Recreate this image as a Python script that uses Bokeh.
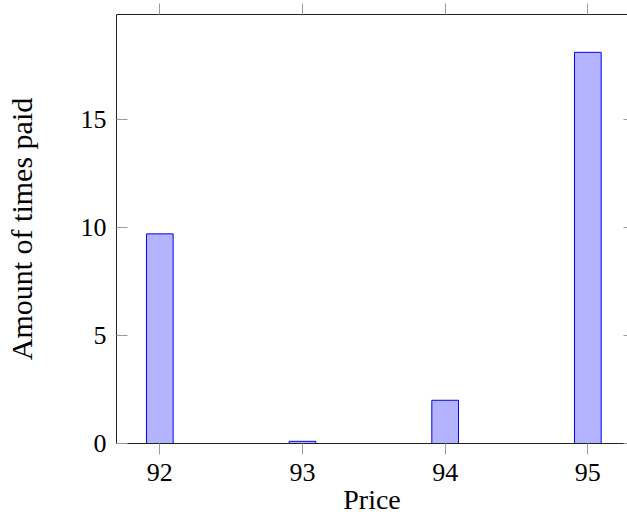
from bokeh.plotting import figure
from bokeh.models import ColumnDataSource, LinearAxis, FixedTicker, Range1d
from bokeh.embed import file_html
from bokeh.resources import INLINE

prices = [92, 93, 94, 95]
counts = [9.7, 0.1, 2.0, 18.1]
x_ticks = [92, 93, 94, 95]
y_ticks = [0, 5, 10, 15]

FONT = "'Liberation Serif', 'Times New Roman', serif"
TICK_COLOR = "#9a9a9a"
AXIS_COLOR = "#222222"

p = figure(width=627, height=517, output_backend="svg", toolbar_location=None,
           x_range=Range1d(91.6965, 95.278), y_range=Range1d(0, 19.85),
           min_border_left=116, min_border_top=14, min_border_right=0, min_border_bottom=73)
p.outline_line_color = None
p.xgrid.visible = False
p.ygrid.visible = False
p.background_fill_color = "white"
p.border_fill_color = "white"

src = ColumnDataSource(dict(x=prices, top=counts))
p.vbar(x="x", top="top", bottom=0, width=0.187, source=src,
       fill_color="#b3b3ff", line_color="#0000ff", line_width=1)

# bottom axis
xa = p.xaxis[0]
xa.ticker = FixedTicker(ticks=x_ticks)
xa.minor_tick_line_color = None
xa.major_tick_in = 0
xa.major_tick_out = 11
xa.major_tick_line_color = TICK_COLOR
xa.axis_line_color = AXIS_COLOR
xa.major_label_text_font = FONT
xa.major_label_text_font_size = "26px"
xa.major_label_text_color = "black"
xa.major_label_standoff = 9
xa.axis_label = "Price"
xa.axis_label_text_font = FONT
xa.axis_label_text_font_style = "normal"
xa.axis_label_text_font_size = "28px"
xa.axis_label_text_color = "black"
xa.axis_label_standoff = 0

# left axis
ya = p.yaxis[0]
ya.ticker = FixedTicker(ticks=y_ticks)
ya.minor_tick_line_color = None
ya.major_tick_in = 11
ya.major_tick_out = 0
ya.major_tick_line_color = TICK_COLOR
ya.axis_line_color = AXIS_COLOR
ya.major_label_text_font = FONT
ya.major_label_text_font_size = "26px"
ya.major_label_text_color = "black"
ya.major_label_standoff = 10
ya.axis_label = "Amount of times paid"
ya.axis_label_text_font = FONT
ya.axis_label_text_font_style = "normal"
ya.axis_label_text_font_size = "30px"
ya.axis_label_text_color = "black"
ya.axis_label_standoff = 40

# top axis (mirrored ticks, no labels)
ta = LinearAxis(ticker=FixedTicker(ticks=x_ticks))
ta.minor_tick_line_color = None
ta.major_tick_in = 0
ta.major_tick_out = 11
ta.major_tick_line_color = TICK_COLOR
ta.axis_line_color = AXIS_COLOR
ta.major_label_text_color = None
ta.major_label_text_font_size = "1px"
ta.major_label_standoff = 0
p.add_layout(ta, "above")

# right axis (ticks only, border line lies beyond the visible area)
ra = LinearAxis(ticker=FixedTicker(ticks=y_ticks))
ra.minor_tick_line_color = None
ra.major_tick_in = 4
ra.major_tick_out = 0
ra.major_tick_line_color = TICK_COLOR
ra.axis_line_color = None
ra.major_label_text_color = None
ra.major_label_text_font_size = "1px"
ra.major_label_standoff = 0
p.add_layout(ra, "right")

open("out.html", "w").write(file_html(p, INLINE))
